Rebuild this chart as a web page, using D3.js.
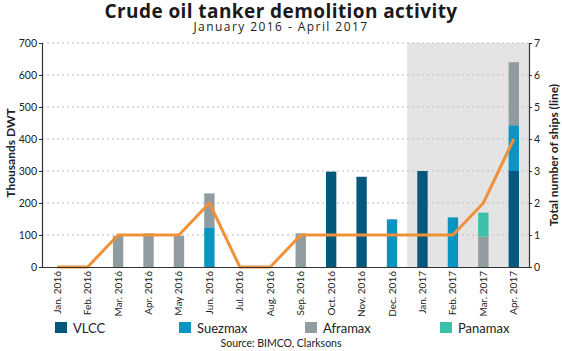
<!DOCTYPE html>
<html>
<head>
<meta charset="utf-8">
<script src="https://cdn.jsdelivr.net/npm/d3@7"></script>
<style>
  body { margin: 0; background: #fff; }
  svg { font-family: Lato, "Open Sans", sans-serif; }
</style>
</head>
<body>
<div id="vis-display"></div>
<script>
// Crude oil tanker demolition: stacked DWT bars + ship-count line on a second axis.

const MONTHS = ["Jan. 2016", "Feb. 2016", "Mar. 2016", "Apr. 2016", "May 2016", "Jun. 2016",
  "Jul. 2016", "Aug. 2016", "Sep. 2016", "Oct. 2016", "Nov. 2016", "Dec. 2016",
  "Jan. 2017", "Feb. 2017", "Mar. 2017", "Apr. 2017"];

const SERIES = ["VLCC", "Suezmax", "Aframax", "Panamax"];
const COLORS = ["#04587c", "#0994c2", "#909c9f", "#3cc0a8"];

// thousands DWT per month
const VLCC     = [0, 0, 0, 0, 0, 0, 0, 0, 0, 298, 282, 0, 300, 0, 0, 300];
const SUEZMAX  = [0, 0, 0, 0, 0, 124, 0, 0, 0, 0, 0, 149, 0, 155, 0, 143];
const AFRAMAX  = [0, 0, 97, 105, 97, 106, 0, 0, 105, 0, 0, 0, 0, 0, 95, 197];
const PANAMAX  = [0, 0, 0, 0, 0, 0, 0, 0, 0, 0, 0, 0, 0, 0, 75, 0];

const SHIPS    = [0, 0, 1, 1, 1, 2, 0, 0, 1, 1, 1, 1, 1, 1, 2, 4];

const SHADED   = ["Jan. 2017", "Feb. 2017", "Mar. 2017", "Apr. 2017"];

const W = 562, H = 351;
const margin = { top: 43, right: 33, bottom: 84, left: 42 };
const innerW = W - margin.left - margin.right;
const innerH = H - margin.top - margin.bottom;

const svg = d3.select("#vis-display").append("svg")
  .attr("width", W).attr("height", H);

// nudge the letter spacing so a centred text gets the width it has in the reference
function spreadTo(sel, target) {
  const w = sel.node().getComputedTextLength();
  const n = sel.text().length;
  sel.style("letter-spacing", ((target - w) / n).toFixed(2) + "px");
}

// ── Titles ──────────────────────────────────────────────────────────────────
svg.append("text")
  .attr("x", 281).attr("y", 18)
  .attr("text-anchor", "middle")
  .style("font-family", "'Open Sans', sans-serif")
  .style("font-size", "19px").style("font-weight", "bold").style("fill", "#1a1a1a")
  .text("Crude oil tanker demolition activity")
  .call(spreadTo, 353);

svg.append("text")
  .attr("x", 281).attr("y", 31)
  .attr("text-anchor", "middle")
  .style("font-family", "'Open Sans', sans-serif")
  .style("font-size", "12px").style("fill", "#222")
  .text("January 2016 - April 2017")
  .call(spreadTo, 175);

const g = svg.append("g").attr("transform", `translate(${margin.left},${margin.top})`);

// ── Scales ──────────────────────────────────────────────────────────────────
const x = d3.scaleBand().domain(MONTHS).range([0, innerW]).paddingInner(0.66).paddingOuter(0.33);
const xc = m => x(m) + x.bandwidth() / 2;
const step = x.step();
const yL = d3.scaleLinear().domain([0, 700]).range([innerH, 0]);
const yR = d3.scaleLinear().domain([0, 7]).range([innerH, 0]);

// shaded period
g.append("rect")
  .attr("x", xc(SHADED[0]) - step / 2)
  .attr("y", 0)
  .attr("width", xc(SHADED[SHADED.length - 1]) - xc(SHADED[0]) + step)
  .attr("height", innerH)
  .attr("fill", "#e4e4e4");

// grid
g.append("g")
  .selectAll("line")
  .data(yL.ticks(7).filter(d => d > 0))
  .join("line")
    .attr("x1", 0).attr("x2", innerW)
    .attr("y1", d => yL(d)).attr("y2", d => yL(d))
    .attr("stroke", "#bdbdbd").attr("stroke-width", 1)
    .attr("stroke-dasharray", "2,3");

// ── Stacked bars ────────────────────────────────────────────────────────────
const table = MONTHS.map((m, i) => ({
  month: m, VLCC: VLCC[i], Suezmax: SUEZMAX[i], Aframax: AFRAMAX[i], Panamax: PANAMAX[i]
}));
const stack = d3.stack().keys(SERIES)(table);
const color = d3.scaleOrdinal().domain(SERIES).range(COLORS);

g.append("g")
  .selectAll("g")
  .data(stack)
  .join("g")
    .attr("fill", d => color(d.key))
  .selectAll("rect")
  .data(d => d.filter(s => s[1] > s[0]))
  .join("rect")
    .attr("x", d => x(d.data.month))
    .attr("y", d => yL(d[1]))
    .attr("width", x.bandwidth())
    .attr("height", d => yL(d[0]) - yL(d[1]));

// ── Ships line ──────────────────────────────────────────────────────────────
g.append("path")
  .datum(SHIPS)
  .attr("fill", "none")
  .attr("stroke", "#f0913a")
  .attr("stroke-width", 3)
  .attr("stroke-linejoin", "round")
  .attr("d", d3.line().x((d, i) => xc(MONTHS[i])).y(d => yR(d)));

// ── Axes ────────────────────────────────────────────────────────────────────
const styleAxis = ax => {
  ax.select(".domain").attr("stroke", "#333").attr("stroke-width", 1.2);
  ax.selectAll(".tick line").attr("stroke", "#333");
  ax.selectAll("text").style("font-size", "10.5px").style("fill", "#222").style("font-family", "Lato, sans-serif");
};

g.append("g")
  .call(d3.axisLeft(yL).ticks(7).tickSize(3).tickSizeOuter(3).tickPadding(2))
  .call(styleAxis);

g.append("g")
  .attr("transform", `translate(${innerW},0)`)
  .call(d3.axisRight(yR).ticks(7).tickSize(3).tickSizeOuter(3).tickPadding(2))
  .call(styleAxis);

g.append("g")
  .attr("transform", `translate(0,${innerH})`)
  .call(d3.axisBottom(x).tickSize(0).tickPadding(4))
  .call(ax => ax.select(".domain").attr("stroke", "#333").attr("stroke-width", 1.2))
  .selectAll("text")
    .style("font-size", "10px").style("fill", "#222").style("font-family", "Lato, sans-serif")
    .attr("transform", "rotate(-90)")
    .attr("text-anchor", "end")
    .attr("x", -4).attr("dy", "0.35em").attr("y", 0);

g.append("text")
  .attr("transform", "rotate(-90)")
  .attr("x", -innerH / 2 + 2).attr("y", -27)
  .attr("text-anchor", "middle")
  .style("font-size", "12px").style("font-weight", "bold").style("fill", "#222")
  .text("Thousands DWT");

g.append("text")
  .attr("transform", "rotate(-90)")
  .attr("x", -innerH / 2).attr("y", innerW + 29)
  .attr("text-anchor", "middle")
  .style("font-size", "12px").style("font-weight", "bold").style("fill", "#222")
  .text("Total number of ships (line)");

// ── Legend ──────────────────────────────────────────────────────────────────
const LEGEND_X = [55, 179, 305, 440];
const legend = svg.append("g")
  .selectAll("g")
  .data(SERIES)
  .join("g")
    .attr("transform", (d, i) => `translate(${LEGEND_X[i]},322)`);

legend.append("rect")
  .attr("width", 12).attr("height", 11)
  .attr("fill", d => color(d));

legend.append("text")
  .attr("x", 18).attr("y", 10.5)
  .style("font-size", "13px").style("fill", "#222")
  .text(d => d);

svg.append("text")
  .attr("x", 281).attr("y", 347)
  .attr("text-anchor", "middle")
  .style("font-size", "10.5px").style("fill", "#222")
  .text("Source: BIMCO, Clarksons")
  .call(spreadTo, 121);
</script>
</body>
</html>
